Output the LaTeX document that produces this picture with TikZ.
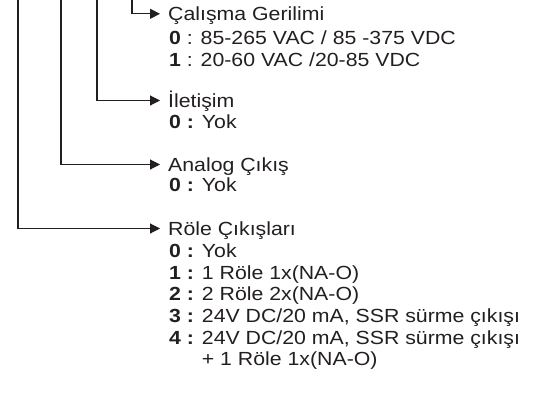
\documentclass[tikz,border=0pt]{standalone}
\usepackage{fontspec}
\setmainfont{Liberation Sans}[FakeStretch=1.12]
\usetikzlibrary{arrows.meta}
\definecolor{ink}{HTML}{231F20}
\begin{document}
\begin{tikzpicture}[x=1pt,y=-1pt,
  conn/.style={draw=ink, line width=1.1pt, -{Triangle[length=10pt,width=10pt]}},
  head/.style={anchor=west, inner xsep=8pt, inner ysep=0pt, text height=13.6pt, text depth=0pt, text=ink, font=\fontsize{19}{21.7}\selectfont},
  items/.style={anchor=north west, inner sep=0pt, align=left, text=ink, font=\fontsize{19}{21.7}\selectfont}]
\useasboundingbox (0,0) rectangle (543,392);
% top ends of the four lines
\coordinate (t1) at (132,0);
\coordinate (t2) at (97,0);
\coordinate (t3) at (61,0);
\coordinate (t4) at (18,0);
% headings
\node[head] (h1) at (160,13.8) {Çalışma Gerilimi};
\node[head] (h2) at (160,100.5) {İletişim};
\node[head] (h3) at (160,164.5) {Analog Çıkış};
\node[head] (h4) at (160,228.5) {Röle Çıkışları};
% item lists
\node[items] (i1) at (169,30.4) {\rule{0pt}{13.6pt}\textbf{0} : 85-265 VAC / 85 -375 VDC\\\textbf{1} : 20-60 VAC /20-85 VDC};
\node[items] (i2) at (169,114.4) {\rule{0pt}{13.6pt}\textbf{0 :} Yok};
\node[items] (i3) at (169,177.9) {\rule{0pt}{13.6pt}\textbf{0 :} Yok};
\node[items] (i4) at (169,243.4) {\rule{0pt}{13.6pt}\textbf{0 :} Yok\\
\textbf{1 :} 1 Röle 1x(NA-O)\\
\textbf{2 :} 2 Röle 2x(NA-O)\\
\textbf{3 :} 24V DC/20 mA, SSR sürme çıkışı\\
\textbf{4 :} 24V DC/20 mA, SSR sürme çıkışı\\
\hphantom{\textbf{4 :} }+ 1 Röle 1x(NA-O)};
% connectors
\draw[conn] (t1) |- (h1.west);
\draw[conn] (t2) |- (h2.west);
\draw[conn] (t3) |- (h3.west);
\draw[conn] (t4) |- (h4.west);
\end{tikzpicture}
\end{document}
